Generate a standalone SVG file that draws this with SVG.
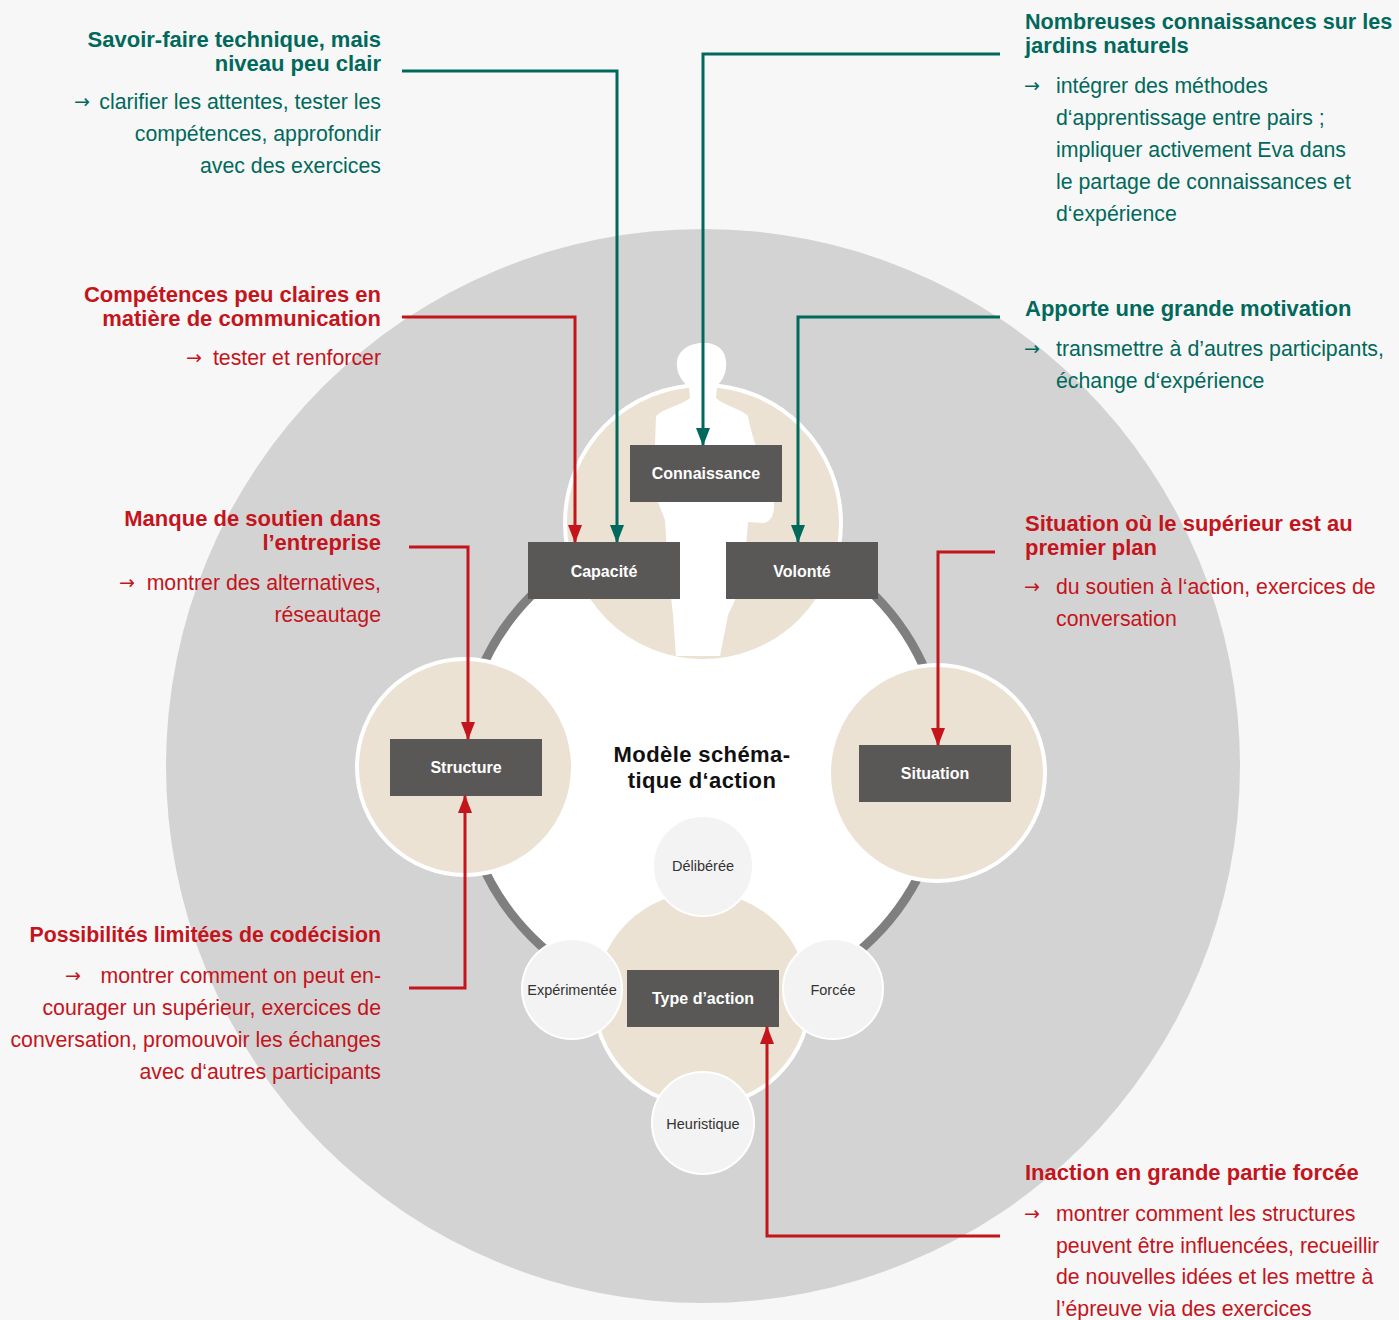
<svg xmlns="http://www.w3.org/2000/svg" width="1399" height="1320" viewBox="0 0 1399 1320">
<style>
  text { font-family: "Liberation Sans", Arial, Helvetica, sans-serif; }
  .hd { font-size: 22px; font-weight: bold; }
  .bd { font-size: 21.3px; }
  .ar { font-family: "DejaVu Sans", "Liberation Sans", sans-serif; font-size: 19px; }
  .teal { fill: #00695c; }
  .red { fill: #c4141c; }
  .box { fill: #595856; }
  .boxlbl { fill: #ffffff; font-size: 16px; font-weight: bold; text-anchor: middle; }
  .tan { fill: #ebe2d3; stroke: #ffffff; stroke-width: 4; }
  .small { fill: #f3f3f3; stroke: #ffffff; stroke-width: 2; }
  .smlbl { fill: #333333; font-size: 14.5px; text-anchor: middle; }
  .cT { fill: none; stroke: #00695c; stroke-width: 3; }
  .cR { fill: none; stroke: #c4141c; stroke-width: 3; }
  .end { text-anchor: end; }
</style>
<defs>
  <marker id="arT" markerUnits="userSpaceOnUse" markerWidth="18" markerHeight="14" refX="17" refY="7" viewBox="0 0 18 14" orient="auto">
    <path d="M0,0 L18,7 L0,14 Z" fill="#00695c"/>
  </marker>
  <marker id="arR" markerUnits="userSpaceOnUse" markerWidth="18" markerHeight="14" refX="17" refY="7" viewBox="0 0 18 14" orient="auto">
    <path d="M0,0 L18,7 L0,14 Z" fill="#c4141c"/>
  </marker>
</defs>

<rect x="0" y="0" width="1399" height="1320" fill="#f7f7f7"/>
<circle id="outer-circle" cx="703" cy="766" r="537" fill="#d3d3d3"/>
<circle id="inner-circle" cx="703" cy="766" r="242" fill="#ffffff" stroke="#7f7f7f" stroke-width="9"/>

<g id="top-circle">
  <circle class="tan" cx="703" cy="523" r="138"/>
  <path id="silhouette" fill="#ffffff" d="M703 343 C716 342 726 350 726 362 C727 372 723 380 717 386 L716 398 C724 406 740 408 748 416 C752 440 765 470 773 498 C776 512 772 521 764 523 L748 522 L745 560 L735 600 L728 615 L720 656 L676 656 L673 615 L668 570 L665 520 L658 502 L655 445 L656 416 C664 408 682 405 690 398 L689 387 C681 381 676 372 677 362 C678 350 690 343 703 343 Z"/>
</g>

<g id="structure-circle"><circle class="tan" cx="465" cy="767" r="108"/></g>
<g id="situation-circle"><circle class="tan" cx="937" cy="773" r="108"/></g>
<g id="type-circle"><circle class="tan" cx="702" cy="998" r="108"/></g>

<g id="title">
  <text x="702" y="762" text-anchor="middle" font-size="22" font-weight="bold" fill="#111111" letter-spacing="0.4">Modèle schéma-</text>
  <text x="702" y="788" text-anchor="middle" font-size="22" font-weight="bold" fill="#111111" letter-spacing="0.4">tique d‘action</text>
</g>

<g id="deliberee"><circle class="small" cx="703" cy="866" r="50"/><text class="smlbl" x="703" y="871">Délibérée</text></g>
<g id="experimentee"><circle class="small" cx="572" cy="989" r="50"/><text class="smlbl" x="572" y="995">Expérimentée</text></g>
<g id="forcee"><circle class="small" cx="833" cy="989" r="50"/><text class="smlbl" x="833" y="995">Forcée</text></g>
<g id="heuristique"><circle class="small" cx="703" cy="1123" r="51"/><text class="smlbl" x="703" y="1129">Heuristique</text></g>

<g id="connaissance"><rect class="box" x="630" y="445" width="152" height="57"/><text class="boxlbl" x="706" y="479">Connaissance</text></g>
<g id="capacite"><rect class="box" x="528" y="542" width="152" height="57"/><text class="boxlbl" x="604" y="577">Capacité</text></g>
<g id="volonte"><rect class="box" x="726" y="542" width="152" height="57"/><text class="boxlbl" x="802" y="577">Volonté</text></g>
<g id="structure"><rect class="box" x="390" y="739" width="152" height="57"/><text class="boxlbl" x="466" y="773">Structure</text></g>
<g id="situation"><rect class="box" x="859" y="745" width="152" height="57"/><text class="boxlbl" x="935" y="779">Situation</text></g>
<g id="type-action"><rect class="box" x="627" y="970" width="152" height="57"/><text class="boxlbl" x="703" y="1004">Type d’action</text></g>

<g id="connectors">
  <path class="cT" d="M402 71 H617 V542" marker-end="url(#arT)"/>
  <path class="cT" d="M1000 54 H703 V445" marker-end="url(#arT)"/>
  <path class="cR" d="M402 317 H575 V542" marker-end="url(#arR)"/>
  <path class="cT" d="M1000 317 H798 V542" marker-end="url(#arT)"/>
  <path class="cR" d="M409 547 H468 V739" marker-end="url(#arR)"/>
  <path class="cR" d="M409 988 H465 V796" marker-end="url(#arR)"/>
  <path class="cR" d="M995 552 H938 V745" marker-end="url(#arR)"/>
  <path class="cR" d="M1000 1236 H767 V1027" marker-end="url(#arR)"/>
</g>

<g id="note-savoir-faire">
  <text class="hd teal end" x="381" y="47">Savoir-faire technique, mais</text>
  <text class="hd teal end" x="381" y="71">niveau peu clair</text>
  <text class="ar teal" x="74" y="108">→</text>
  <text class="bd teal end" x="381" y="109">clarifier les attentes, tester les</text>
  <text class="bd teal end" x="381" y="141">compétences, approfondir</text>
  <text class="bd teal end" x="381" y="173">avec des exercices</text>
</g>

<g id="note-competences">
  <text class="hd red end" x="381" y="302">Compétences peu claires en</text>
  <text class="hd red end" x="381" y="326">matière de communication</text>
  <text class="ar red" x="186" y="364">→</text>
  <text class="bd red end" x="381" y="365">tester et renforcer</text>
</g>

<g id="note-manque">
  <text class="hd red end" x="381" y="526">Manque de soutien dans</text>
  <text class="hd red end" x="381" y="550">l’entreprise</text>
  <text class="ar red" x="119" y="589">→</text>
  <text class="bd red end" x="381" y="590">montrer des alternatives,</text>
  <text class="bd red end" x="381" y="622">réseautage</text>
</g>

<g id="note-possibilites">
  <text class="hd red end" x="381" y="942" style="font-size:21.3px">Possibilités limitées de codécision</text>
  <text class="ar red" x="65" y="982">→</text>
  <text class="bd red end" x="381" y="983">montrer comment on peut en-</text>
  <text class="bd red end" x="381" y="1015">courager un supérieur, exercices de</text>
  <text class="bd red end" x="381" y="1047">conversation, promouvoir les échanges</text>
  <text class="bd red end" x="381" y="1079">avec d‘autres participants</text>
</g>

<g id="note-nombreuses">
  <text class="hd teal" x="1025" y="29" style="font-size:21.6px">Nombreuses connaissances sur les</text>
  <text class="hd teal" x="1025" y="53">jardins naturels</text>
  <text class="ar teal" x="1024" y="92">→</text>
  <text class="bd teal" x="1056" y="93">intégrer des méthodes</text>
  <text class="bd teal" x="1056" y="125">d‘apprentissage entre pairs ;</text>
  <text class="bd teal" x="1056" y="157">impliquer activement Eva dans</text>
  <text class="bd teal" x="1056" y="189">le partage de connaissances et</text>
  <text class="bd teal" x="1056" y="221">d‘expérience</text>
</g>

<g id="note-apporte">
  <text class="hd teal" x="1025" y="316">Apporte une grande motivation</text>
  <text class="ar teal" x="1024" y="355">→</text>
  <text class="bd teal" x="1056" y="356">transmettre à d’autres participants,</text>
  <text class="bd teal" x="1056" y="388">échange d‘expérience</text>
</g>

<g id="note-situation">
  <text class="hd red" x="1025" y="531">Situation où le supérieur est au</text>
  <text class="hd red" x="1025" y="555">premier plan</text>
  <text class="ar red" x="1024" y="593">→</text>
  <text class="bd red" x="1056" y="594">du soutien à l‘action, exercices de</text>
  <text class="bd red" x="1056" y="626">conversation</text>
</g>

<g id="note-inaction">
  <text class="hd red" x="1025" y="1180">Inaction en grande partie forcée</text>
  <text class="ar red" x="1024" y="1220">→</text>
  <text class="bd red" x="1056" y="1221">montrer comment les structures</text>
  <text class="bd red" x="1056" y="1253">peuvent être influencées, recueillir</text>
  <text class="bd red" x="1056" y="1284">de nouvelles idées et les mettre à</text>
  <text class="bd red" x="1056" y="1316">l’épreuve via des exercices</text>
</g>
</svg>
